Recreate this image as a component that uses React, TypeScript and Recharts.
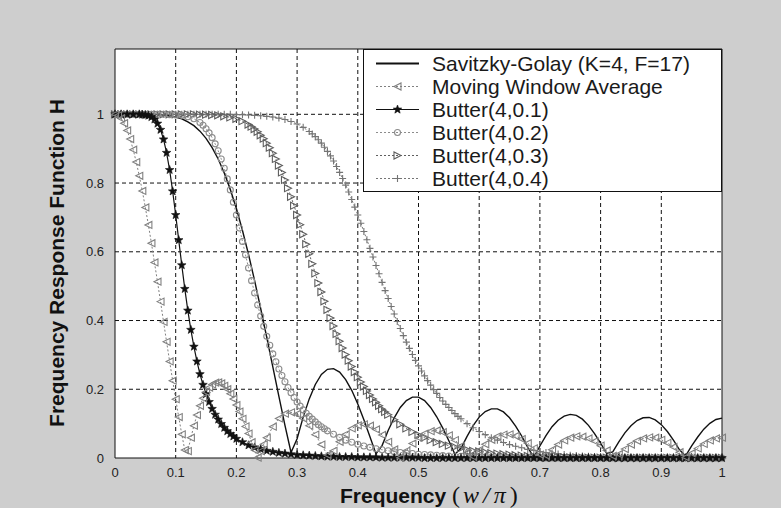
import React from 'react';
import {
  LineChart,
  Line,
  XAxis,
  YAxis,
  CartesianGrid,
  Legend,
  ReferenceLine,
} from 'recharts';

// normalised frequency grid (w / pi)
const freq = [
  0, 0.01, 0.02, 0.03, 0.04, 0.05, 0.06, 0.07, 0.08, 0.09,
  0.1, 0.11, 0.12, 0.13, 0.14, 0.15, 0.16, 0.17, 0.18, 0.19,
  0.2, 0.21, 0.22, 0.23, 0.24, 0.25, 0.26, 0.27, 0.28, 0.29,
  0.3, 0.31, 0.32, 0.33, 0.34, 0.35, 0.36, 0.37, 0.38, 0.39,
  0.4, 0.41, 0.42, 0.43, 0.44, 0.45, 0.46, 0.47, 0.48, 0.49,
  0.5, 0.51, 0.52, 0.53, 0.54, 0.55, 0.56, 0.57, 0.58, 0.59,
  0.6, 0.61, 0.62, 0.63, 0.64, 0.65, 0.66, 0.67, 0.68, 0.69,
  0.7, 0.71, 0.72, 0.73, 0.74, 0.75, 0.76, 0.77, 0.78, 0.79,
  0.8, 0.81, 0.82, 0.83, 0.84, 0.85, 0.86, 0.87, 0.88, 0.89,
  0.9, 0.91, 0.92, 0.93, 0.94, 0.95, 0.96, 0.97, 0.98, 0.99,
  1,
];

const savGolay = [
  1, 1, 1, 1, 1, 1, 1, 0.999, 0.998, 0.996,
  0.992, 0.987, 0.978, 0.967, 0.951, 0.93, 0.903, 0.87, 0.829, 0.781,
  0.726, 0.662, 0.592, 0.516, 0.435, 0.351, 0.265, 0.179, 0.095, 0.016,
  0.056, 0.119, 0.172, 0.214, 0.243, 0.258, 0.26, 0.25, 0.228, 0.197,
  0.157, 0.111, 0.062, 0.012, 0.036, 0.08, 0.117, 0.147, 0.167, 0.177,
  0.177, 0.167, 0.147, 0.12, 0.087, 0.05, 0.011, 0.028, 0.063, 0.094,
  0.119, 0.135, 0.143, 0.143, 0.134, 0.117, 0.093, 0.064, 0.031, 0.002,
  0.035, 0.065, 0.091, 0.11, 0.122, 0.127, 0.124, 0.113, 0.095, 0.071,
  0.043, 0.013, 0.018, 0.047, 0.073, 0.094, 0.109, 0.117, 0.118, 0.111,
  0.097, 0.077, 0.052, 0.024, 0.006, 0.035, 0.061, 0.084, 0.101, 0.112,
  0.116,
];

const movingAvg = [
  1, 0.988, 0.953, 0.897, 0.821, 0.729, 0.625, 0.513, 0.396, 0.281,
  0.171, 0.069, 0.02, 0.094, 0.152, 0.192, 0.214, 0.22, 0.21, 0.187,
  0.154, 0.114, 0.071, 0.023, 0.02, 0.059, 0.091, 0.115, 0.129, 0.133,
  0.128, 0.115, 0.094, 0.068, 0.039, 0.009, 0.021, 0.047, 0.069, 0.086,
  0.095, 0.098, 0.094, 0.083, 0.067, 0.047, 0.025, 0.001, 0.021, 0.042,
  0.059, 0.071, 0.078, 0.08, 0.075, 0.066, 0.052, 0.035, 0.016, 0.004,
  0.023, 0.04, 0.053, 0.063, 0.068, 0.069, 0.064, 0.055, 0.043, 0.028,
  0.01, 0.007, 0.024, 0.039, 0.051, 0.059, 0.063, 0.062, 0.057, 0.049,
  0.036, 0.022, 0.006, 0.011, 0.026, 0.039, 0.05, 0.057, 0.06, 0.059,
  0.053, 0.044, 0.032, 0.017, 0.002, 0.014, 0.028, 0.041, 0.051, 0.057,
  0.059,
];

const butter01 = [
  1, 1, 1, 1, 1, 0.998, 0.992, 0.973, 0.927, 0.838,
  0.707, 0.561, 0.429, 0.324, 0.244, 0.186, 0.143, 0.112, 0.088, 0.07,
  0.056, 0.046, 0.037, 0.031, 0.026, 0.021, 0.018, 0.015, 0.013, 0.011,
  0.009, 0.008, 0.007, 0.006, 0.005, 0.004, 0.004, 0.003, 0.003, 0.003,
  0.002, 0.002, 0.002, 0.002, 0.001, 0.001, 0.001, 0.001, 0.001, 0.001,
  0.001, 0, 0, 0, 0, 0, 0, 0, 0, 0,
  0, 0, 0, 0, 0, 0, 0, 0, 0, 0,
  0, 0, 0, 0, 0, 0, 0, 0, 0, 0,
  0, 0, 0, 0, 0, 0, 0, 0, 0, 0,
  0, 0, 0, 0, 0, 0, 0, 0, 0, 0,
  0,
];

const butter02 = [
  1, 1, 1, 1, 1, 1, 1, 1, 1, 0.999,
  0.998, 0.997, 0.993, 0.987, 0.976, 0.958, 0.932, 0.894, 0.843, 0.78,
  0.707, 0.63, 0.553, 0.48, 0.413, 0.354, 0.303, 0.259, 0.222, 0.19,
  0.163, 0.14, 0.121, 0.105, 0.091, 0.079, 0.069, 0.06, 0.052, 0.046,
  0.04, 0.035, 0.031, 0.027, 0.024, 0.021, 0.018, 0.016, 0.014, 0.013,
  0.011, 0.01, 0.009, 0.008, 0.007, 0.006, 0.005, 0.005, 0.004, 0.004,
  0.003, 0.003, 0.002, 0.002, 0.002, 0.001, 0.001, 0.001, 0.001, 0.001,
  0.001, 0, 0, 0, 0, 0, 0, 0, 0, 0,
  0, 0, 0, 0, 0, 0, 0, 0, 0, 0,
  0, 0, 0, 0, 0, 0, 0, 0, 0, 0,
  0,
];

const butter03 = [
  1, 1, 1, 1, 1, 1, 1, 1, 1, 1,
  1, 1, 1, 1, 0.999, 0.999, 0.998, 0.997, 0.994, 0.991,
  0.987, 0.98, 0.97, 0.957, 0.939, 0.916, 0.887, 0.851, 0.809, 0.76,
  0.707, 0.651, 0.594, 0.537, 0.483, 0.431, 0.384, 0.34, 0.301, 0.266,
  0.235, 0.208, 0.183, 0.162, 0.142, 0.126, 0.111, 0.098, 0.086, 0.076,
  0.067, 0.059, 0.052, 0.046, 0.041, 0.036, 0.032, 0.028, 0.024, 0.021,
  0.019, 0.017, 0.014, 0.013, 0.011, 0.01, 0.008, 0.007, 0.006, 0.005,
  0.005, 0.004, 0.003, 0.003, 0.002, 0.002, 0.002, 0.001, 0.001, 0.001,
  0.001, 0.001, 0.001, 0, 0, 0, 0, 0, 0, 0,
  0, 0, 0, 0, 0, 0, 0, 0, 0, 0,
  0,
];

const butter04 = [
  1, 1, 1, 1, 1, 1, 1, 1, 1, 1,
  1, 1, 1, 1, 1, 1, 1, 1, 1, 1,
  0.999, 0.999, 0.998, 0.997, 0.996, 0.994, 0.992, 0.989, 0.985, 0.979,
  0.972, 0.962, 0.95, 0.935, 0.916, 0.892, 0.864, 0.831, 0.794, 0.752,
  0.707, 0.659, 0.61, 0.56, 0.511, 0.464, 0.419, 0.377, 0.337, 0.301,
  0.268, 0.239, 0.212, 0.188, 0.166, 0.147, 0.129, 0.114, 0.1, 0.088,
  0.077, 0.068, 0.059, 0.052, 0.045, 0.039, 0.034, 0.03, 0.025, 0.022,
  0.019, 0.016, 0.014, 0.012, 0.01, 0.008, 0.007, 0.006, 0.005, 0.004,
  0.003, 0.003, 0.002, 0.002, 0.001, 0.001, 0.001, 0.001, 0, 0,
  0, 0, 0, 0, 0, 0, 0, 0, 0, 0,
  0,
];

// extra half-step samples where the responses fall steeply
const movingAvgMid: [number, number][] = [
  [0.005, 0.997], [0.015, 0.974], [0.025, 0.928], [0.035, 0.861], [0.045, 0.777],
  [0.055, 0.678], [0.065, 0.569], [0.075, 0.455], [0.085, 0.338], [0.095, 0.225],
  [0.105, 0.119], [0.115, 0.023], [0.125, 0.059], [0.135, 0.125], [0.145, 0.174],
  [0.155, 0.205], [0.165, 0.219], [0.175, 0.217], [0.185, 0.2], [0.195, 0.172],
  [0.205, 0.135], [0.215, 0.092], [0.225, 0.046], [0.235, 0.001], [0.245, 0.04],
];

const butter01Mid: [number, number][] = [
  [0.045, 0.999], [0.055, 0.996], [0.065, 0.985], [0.075, 0.955], [0.085, 0.888],
  [0.095, 0.776], [0.105, 0.634], [0.115, 0.492], [0.125, 0.373], [0.135, 0.281],
  [0.145, 0.213], [0.155, 0.163], [0.165, 0.126], [0.175, 0.099], [0.185, 0.078],
  [0.195, 0.063],
];

const butter02Mid: [number, number][] = [
  [0.145, 0.968], [0.155, 0.946], [0.165, 0.914], [0.175, 0.87], [0.185, 0.812],
  [0.195, 0.744], [0.205, 0.669], [0.215, 0.591], [0.225, 0.516], [0.235, 0.445],
  [0.245, 0.383], [0.255, 0.328], [0.265, 0.28], [0.275, 0.24], [0.285, 0.205],
  [0.295, 0.176], [0.305, 0.151], [0.315, 0.13], [0.325, 0.113], [0.335, 0.097],
  [0.345, 0.085],
];

const butter03Mid: [number, number][] = [
  [0.225, 0.964], [0.235, 0.949], [0.245, 0.929], [0.255, 0.903], [0.265, 0.87],
  [0.275, 0.831], [0.285, 0.785], [0.295, 0.734], [0.305, 0.679], [0.315, 0.622],
  [0.325, 0.565], [0.335, 0.509], [0.345, 0.456], [0.355, 0.407], [0.365, 0.361],
  [0.375, 0.32], [0.385, 0.283], [0.395, 0.25], [0.405, 0.221], [0.415, 0.195],
  [0.425, 0.172], [0.435, 0.152], [0.445, 0.134],
];

const butter04Mid: [number, number][] = [
  [0.325, 0.943], [0.335, 0.926], [0.345, 0.904], [0.355, 0.879], [0.365, 0.848],
  [0.375, 0.813], [0.385, 0.774], [0.395, 0.73], [0.405, 0.683], [0.415, 0.635],
  [0.425, 0.585], [0.435, 0.536], [0.445, 0.487], [0.455, 0.441], [0.465, 0.397],
  [0.475, 0.356], [0.485, 0.319], [0.495, 0.284], [0.505, 0.253], [0.515, 0.225],
  [0.525, 0.199], [0.535, 0.176], [0.545, 0.156], [0.555, 0.138], [0.565, 0.121],
];

const xTicks = [0, 0.1, 0.2, 0.3, 0.4, 0.5, 0.6, 0.7, 0.8, 0.9, 1];
const yTicks = [0, 0.2, 0.4, 0.6, 0.8, 1];
const xGrid = [0.1, 0.2, 0.3, 0.4, 0.5, 0.6, 0.7, 0.8, 0.9];
const yGrid = [0.2, 0.4, 0.6, 0.8, 1];

type Pt = { f: number; v: number };

const merge = (vals: number[], mid: [number, number][] = []): Pt[] =>
  [...freq.map((f, i) => ({ f, v: vals[i] })), ...mid.map(([f, v]) => ({ f, v }))].sort(
    (a, b) => a.f - b.f,
  );

type MarkerKind = 'none' | 'triLeft' | 'star' | 'circle' | 'triRight' | 'plus';

interface SeriesStyle {
  key: string;
  name: string;
  points: Pt[];
  color: string;
  marker: MarkerKind;
  dash?: string;
  width: number;
}

const series: SeriesStyle[] = [
  { key: 'sg', name: 'Savitzky-Golay (K=4, F=17)', points: merge(savGolay), color: '#111', marker: 'none', width: 1.4 },
  { key: 'ma', name: 'Moving Window Average', points: merge(movingAvg, movingAvgMid), color: '#808080', marker: 'triLeft', dash: '2 2', width: 1 },
  { key: 'b1', name: 'Butter(4,0.1)', points: merge(butter01, butter01Mid), color: '#111', marker: 'star', width: 1.2 },
  { key: 'b2', name: 'Butter(4,0.2)', points: merge(butter02, butter02Mid), color: '#8c8c8c', marker: 'circle', dash: '2 2', width: 1 },
  { key: 'b3', name: 'Butter(4,0.3)', points: merge(butter03, butter03Mid), color: '#5e5e5e', marker: 'triRight', dash: '2 2', width: 1 },
  { key: 'b4', name: 'Butter(4,0.4)', points: merge(butter04, butter04Mid), color: '#747474', marker: 'plus', dash: '2 2', width: 1 },
];

const starPath = (cx: number, cy: number, r: number) => {
  const pts: string[] = [];
  for (let k = 0; k < 10; k++) {
    const rad = k % 2 === 0 ? r : r * 0.42;
    const a = -Math.PI / 2 + (k * Math.PI) / 5;
    pts.push(`${(cx + rad * Math.cos(a)).toFixed(2)},${(cy + rad * Math.sin(a)).toFixed(2)}`);
  }
  return `M${pts.join('L')}Z`;
};

const Marker = ({ kind, cx, cy, color }: { kind: MarkerKind; cx: number; cy: number; color: string }) => {
  const s = 3.5;
  switch (kind) {
    case 'star':
      return <path d={starPath(cx, cy, 4.5)} fill={color} stroke={color} strokeWidth={0.6} />;
    case 'circle':
      return <circle cx={cx} cy={cy} r={3} fill="none" stroke={color} strokeWidth={1.1} />;
    case 'triLeft':
      return (
        <polygon
          points={`${cx - s},${cy} ${cx + s},${cy - s} ${cx + s},${cy + s}`}
          fill="none"
          stroke={color}
          strokeWidth={1.1}
        />
      );
    case 'triRight':
      return (
        <polygon
          points={`${cx + s},${cy} ${cx - s},${cy - s} ${cx - s},${cy + s}`}
          fill="none"
          stroke={color}
          strokeWidth={1.1}
        />
      );
    case 'plus':
      return (
        <path
          d={`M${cx - s},${cy}H${cx + s}M${cx},${cy - s}V${cy + s}`}
          stroke={color}
          strokeWidth={1.1}
        />
      );
    default:
      return null;
  }
};

const makeDot = (s: SeriesStyle) =>
  s.marker === 'none'
    ? false
    : (p: any) => {
        if (p.cx == null || p.cy == null) return <g key={`${s.key}-${p.index}`} />;
        return (
          <g key={`${s.key}-${p.index}`}>
            <Marker kind={s.marker} cx={p.cx} cy={p.cy} color={s.color} />
          </g>
        );
      };

const LegendBox = () => (
  <div
    style={{
      width: 359,
      height: 143,
      boxSizing: 'border-box',
      border: '1px solid #111',
      background: '#fff',
      paddingTop: 2,
      fontFamily: '"Liberation Sans", Arial, sans-serif',
      fontSize: 21,
      color: '#1a1a1a',
    }}
  >
    {series.map((s) => (
      <div key={s.key} style={{ height: 23, display: 'flex', alignItems: 'center' }}>
        <svg width={68} height={23} style={{ flex: 'none' }}>
          <line
            x1={12}
            x2={55}
            y1={11.5}
            y2={11.5}
            stroke={s.color}
            strokeWidth={s.marker === 'none' ? 2 : 1}
            strokeDasharray={s.dash}
          />
          <Marker kind={s.marker} cx={33.5} cy={11.5} color={s.color} />
        </svg>
        <span style={{ lineHeight: '23px', whiteSpace: 'nowrap' }}>{s.name}</span>
      </div>
    ))}
  </div>
);

const serif = '"Liberation Serif", "Times New Roman", serif';

const XLabel = () => (
  <text x={340} y={503} textAnchor="start" fill="#111">
    <tspan fontFamily='"Liberation Sans", Arial, sans-serif' fontWeight="bold" fontSize={21}>
      Frequency{' '}
    </tspan>
    <tspan fontFamily={serif} fontSize={24} letterSpacing={3}>(</tspan>
    <tspan fontFamily={serif} fontStyle="italic" fontSize={24} letterSpacing={4}>
      w/π
    </tspan>
    <tspan fontFamily={serif} fontSize={24}>)</tspan>
  </text>
);

const YLabel = () => (
  <text
    x={56}
    y={263}
    transform="rotate(-90 56 263)"
    textAnchor="middle"
    dominantBaseline="central"
    fontFamily='"Liberation Sans", Arial, sans-serif'
    fontWeight="bold"
    fontSize={21}
    fill="#111"
  >
    Frequency Response Function H
  </text>
);

const tickStyle = { fontFamily: '"Liberation Sans", Arial, sans-serif', fontSize: 13, fill: '#222' };

export default function App() {
  return (
    <div style={{ position: 'absolute', left: 0, top: 0, width: 781, height: 508, background: '#cecece' }}>
      <LineChart width={781} height={508} margin={{ top: 49, right: 59, bottom: 20, left: 55 }}>
        <CartesianGrid
          fill="#fff"
          stroke="#111"
          strokeDasharray="4 3"
          horizontalValues={yGrid}
          verticalValues={xGrid}
        />
        <XAxis
          dataKey="f"
          type="number"
          domain={[0, 1]}
          ticks={xTicks}
          height={30}
          tick={tickStyle}
          tickLine={false}
          axisLine={{ stroke: '#111' }}
          tickMargin={4}
          allowDuplicatedCategory={false}
          label={<XLabel />}
        />
        <YAxis
          type="number"
          domain={[0, 1.19]}
          ticks={yTicks}
          width={60}
          tick={tickStyle}
          tickLine={false}
          axisLine={{ stroke: '#111' }}
          tickMargin={5}
          label={<YLabel />}
        />
        <ReferenceLine x={1} stroke="#111" />
        <ReferenceLine y={1.19} stroke="#111" />
        {series
          .slice()
          .reverse()
          .map((s) => (
            <Line
              key={s.key}
              data={s.points}
              type="linear"
              dataKey="v"
              name={s.name}
              stroke={s.color}
              strokeWidth={s.width}
              strokeDasharray={s.dash}
              dot={makeDot(s)}
              activeDot={false}
              isAnimationActive={false}
            />
          ))}
        <Legend
          layout="vertical"
          align="center"
          verticalAlign="middle"
          wrapperStyle={{ left: 363, top: 49, width: 359, height: 143 }}
          content={<LegendBox />}
        />
      </LineChart>
    </div>
  );
}
